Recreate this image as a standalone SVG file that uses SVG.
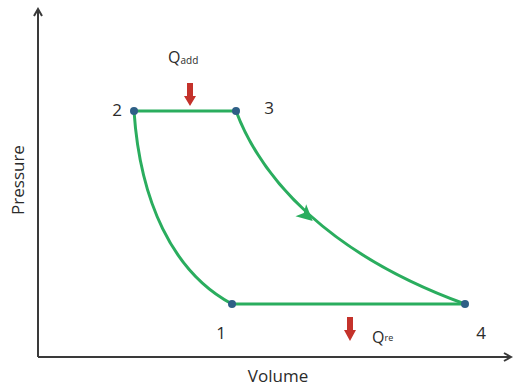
<svg xmlns="http://www.w3.org/2000/svg" width="515" height="389" viewBox="0 0 515 389">
<style>
.ax{stroke:#3a3a3a;stroke-width:2;fill:none}
.cyc{stroke:#2aad5e;stroke-width:3;fill:none}
.dot{fill:#2e5f86}
.lbl{font-family:"Open Sans","Liberation Sans",sans-serif;fill:#2b2b2b}
.red{fill:#c4322b}
</style>
<defs>
<marker id="axh" markerWidth="10" markerHeight="10" refX="8" refY="5" orient="auto" markerUnits="userSpaceOnUse">
<path d="M1,1 L8,5 L1,9" fill="none" stroke="#3a3a3a" stroke-width="2"/>
</marker>
</defs>
<g id="axes">
<path class="ax" d="M38,357 L38,9" marker-end="url(#axh)"/>
<path class="ax" d="M38,357 L511,357" marker-end="url(#axh)"/>
<text class="lbl" x="278" y="382" font-size="17" text-anchor="middle">Volume</text>
<text class="lbl" x="0" y="0" font-size="17" text-anchor="middle" transform="translate(24,180) rotate(-90)">Pressure</text>
</g>
<g id="connectors">
<path class="cyc" d="M134,111 L236,111"/>
<path class="cyc" d="M236,111 C262,180 330,255 465,304"/>
<path d="M-7,-8 L9,0 L-7,8 L-3,0 Z" fill="#2aad5e" transform="translate(306,215) rotate(42)"/>
<path class="cyc" d="M465,304 L232,304"/>
<path class="cyc" d="M232,304 C172,272 140,200 134,111"/>
</g>
<g id="p2"><circle class="dot" cx="134" cy="111" r="4"/><text class="lbl" x="117" y="116" font-size="17" text-anchor="middle">2</text></g>
<g id="p3"><circle class="dot" cx="236" cy="111" r="4"/><text class="lbl" x="269" y="114" font-size="17" text-anchor="middle">3</text></g>
<g id="p1"><circle class="dot" cx="232" cy="304" r="4"/><text class="lbl" x="221" y="339" font-size="17" text-anchor="middle">1</text></g>
<g id="p4"><circle class="dot" cx="465" cy="304" r="4"/><text class="lbl" x="481" y="339" font-size="17" text-anchor="middle">4</text></g>
<g id="qadd">
<text class="lbl" x="168" y="63" font-size="16">Q<tspan font-size="10" dy="1">add</tspan></text>
<path class="red" d="M187,83 L193,83 L193,96 L196,96 L190,106 L184,96 L187,96 Z"/>
</g>
<g id="qre">
<path class="red" d="M347,317 L353,317 L353,330 L356,330 L350,341 L344,330 L347,330 Z"/>
<text class="lbl" x="372" y="343" font-size="16">Q<tspan font-size="9" dy="-2">re</tspan></text>
</g>
</svg>
